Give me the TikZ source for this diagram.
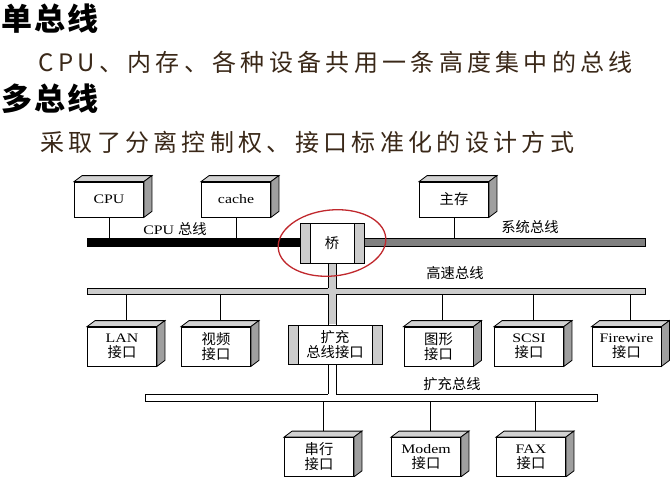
\documentclass[tikz,border=0pt]{standalone}
\usepackage{fontspec}
\setmainfont[FakeStretch=1.22]{Liberation Serif}
\newfontfamily\zh[Scale=1.1]{Noto Sans CJK SC}
\newfontfamily\zhhead[LetterSpace=6]{Noto Sans CJK SC}
\newfontfamily\zhline[LetterSpace=18]{Noto Sans CJK SC}
\usepackage{xcolor}
\usepackage{tikz}
\usetikzlibrary{positioning}
\definecolor{chalk}{HTML}{3A2818}
\definecolor{ringred}{HTML}{C0282D}

\begin{document}
\begin{tikzpicture}[x=1pt, y=-1pt, line width=0.8pt,
  dev/.style={draw, fill=white, minimum width=69pt, minimum height=39pt, inner sep=0pt, align=center,
    font=\fontsize{13}{15}\selectfont,
    append after command={\pgfextra{\let\devbox\tikzlastnode
      \pgfinterruptpath
      \draw[fill=gray!35] (\devbox.north west) -- ++(8pt,6pt) -- ([shift={(8pt,6pt)}]\devbox.north east) -- (\devbox.north east) -- cycle;
      \draw[fill=gray!75] (\devbox.north east) -- ++(8pt,6pt) -- ([shift={(8pt,6pt)}]\devbox.south east) -- (\devbox.south east) -- cycle;
      \endpgfinterruptpath}}},
  panel/.style={draw, fill=white, inner sep=0pt, align=center, font=\fontsize{13}{15}\selectfont,
    path picture={
      \fill[gray!40] (path picture bounding box.north west) rectangle ([xshift=10pt]path picture bounding box.south west);
      \fill[gray!40] (path picture bounding box.north east) rectangle ([xshift=-10pt]path picture bounding box.south east);
      \draw ([xshift=10pt]path picture bounding box.north west) -- ([xshift=10pt]path picture bounding box.south west);
      \draw ([xshift=-10pt]path picture bounding box.north east) -- ([xshift=-10pt]path picture bounding box.south east);}},
  bus/.style={draw, inner sep=0pt, minimum height=8pt},
  buslabel/.style={font=\fontsize{13}{15}\selectfont},
  ring/.style={draw=ringred, line width=1.3pt}]
\useasboundingbox (0,0) rectangle (670,477);

\node[anchor=west, inner sep=0pt, font=\zhhead\bfseries\fontsize{31}{32}\selectfont] (single) at (1,19) {单总线};
\node[anchor=west, inner sep=0pt, text=chalk, font=\zhline\fontsize{24}{26}\selectfont] (singletxt) at (38,62) {CPU、内存、各种设备共用一条高度集中的总线};
\node[anchor=west, inner sep=0pt, font=\zhhead\bfseries\fontsize{31}{32}\selectfont] (multi) at (1,99) {多总线};
\node[anchor=west, inner sep=0pt, text=chalk, font=\zhline\fontsize{24}{26}\selectfont] (multitxt) at (40,142) {采取了分离控制权、接口标准化的设计方式};

\node[bus, fill=black, minimum width=212pt] (cpubus) at (193,242) {};
\node[bus, fill=gray, minimum width=282pt] (sysbus) at (504,242) {};
\node[bus, fill=gray!40, minimum width=558pt, minimum height=6pt] (hsbus) at (366,291) {};
\node[bus, fill=white, minimum width=452pt, minimum height=7pt] (expbus) at (371,398) {};

\node[dev, minimum height=35pt] (cpu) at (109,199.5) {CPU};
\node[dev, minimum height=35pt] (cache) at (236,199.5) {cache};
\node[dev, minimum height=35pt] (mem) at (454,199.5) {\zh 主存};
\node[panel, minimum width=64pt, minimum height=40pt] (bridge) at (332,243) {\zh 桥};

\node[dev] (lan) at (122,346.5) {LAN\\{\zh 接口}};
\node[dev] (video) at (216,346.5) {\zh 视频\\\zh 接口};
\node[panel, minimum width=94pt, minimum height=39pt] (xbi) at (335,344.5) {\zh 扩充\\\zh 总线接口};
\node[dev] (gfx) at (438.5,346.5) {\zh 图形\\\zh 接口};
\node[dev] (scsi) at (529,346.5) {SCSI\\{\zh 接口}};
\node[dev] (fw) at (626.5,346.5) {Firewire\\{\zh 接口}};

\node[dev] (serial) at (319,457) {\zh 串行\\\zh 接口};
\node[dev] (modem) at (426,457) {Modem\\{\zh 接口}};
\node[dev] (fax) at (531,457) {FAX\\{\zh 接口}};

\node[buslabel] (cpulbl) at (175,229) {CPU {\zh 总线}};
\node[buslabel] (syslbl) at (530,227) {\zh 系统总线};
\node[buslabel] (hslbl) at (455,273) {\zh 高速总线};
\node[buslabel] (explbl) at (452,384) {\zh 扩充总线};

\draw (cpu.south) -- (cpu.south |- cpubus.north);
\draw (cache.south) -- (cache.south |- cpubus.north);
\draw (mem.south) -- (mem.south |- sysbus.north);

\draw ([shift={(4pt,6pt)}]lan.north) -- ([xshift=4pt]lan.north |- hsbus.south);
\draw ([shift={(4pt,6pt)}]video.north) -- ([xshift=4pt]video.north |- hsbus.south);
\draw ([shift={(4pt,6pt)}]gfx.north) -- ([xshift=4pt]gfx.north |- hsbus.south);
\draw ([shift={(4pt,6pt)}]scsi.north) -- ([xshift=4pt]scsi.north |- hsbus.south);
\draw ([shift={(4pt,6pt)}]fw.north) -- ([xshift=4pt]fw.north |- hsbus.south);

\draw ([shift={(4pt,6pt)}]serial.north) -- ([xshift=4pt]serial.north |- expbus.south);
\draw ([shift={(4pt,6pt)}]modem.north) -- ([xshift=4pt]modem.north |- expbus.south);
\draw ([shift={(4pt,6pt)}]fax.north) -- ([xshift=4pt]fax.north |- expbus.south);

\fill[gray!40] ([shift={(-4pt,-0.4pt)}]bridge.south) rectangle ([shift={(4pt,0.4pt)}]bridge.south |- xbi.north);
\draw ([xshift=-4pt]bridge.south) -- ([xshift=-4pt]bridge.south |- hsbus.north)
      ([xshift=4pt]bridge.south) -- ([xshift=4pt]bridge.south |- hsbus.north)
      ([xshift=-4pt]bridge.south |- hsbus.south) -- ([xshift=-4pt]bridge.south |- xbi.north)
      ([xshift=4pt]bridge.south |- hsbus.south) -- ([xshift=4pt]bridge.south |- xbi.north);
\fill[white] ([shift={(-4pt,-0.4pt)}]bridge.south |- xbi.south) rectangle ([xshift=4pt]bridge.south |- expbus.center);
\draw ([xshift=-4pt]bridge.south |- xbi.south) -- ([xshift=-4pt]bridge.south |- expbus.north)
      ([xshift=4pt]bridge.south |- xbi.south) -- ([xshift=4pt]bridge.south |- expbus.north);

\draw[ring, rotate around={6:(bridge.center)}] (bridge.center) ellipse (54pt and 33pt);

\end{tikzpicture}
\end{document}
